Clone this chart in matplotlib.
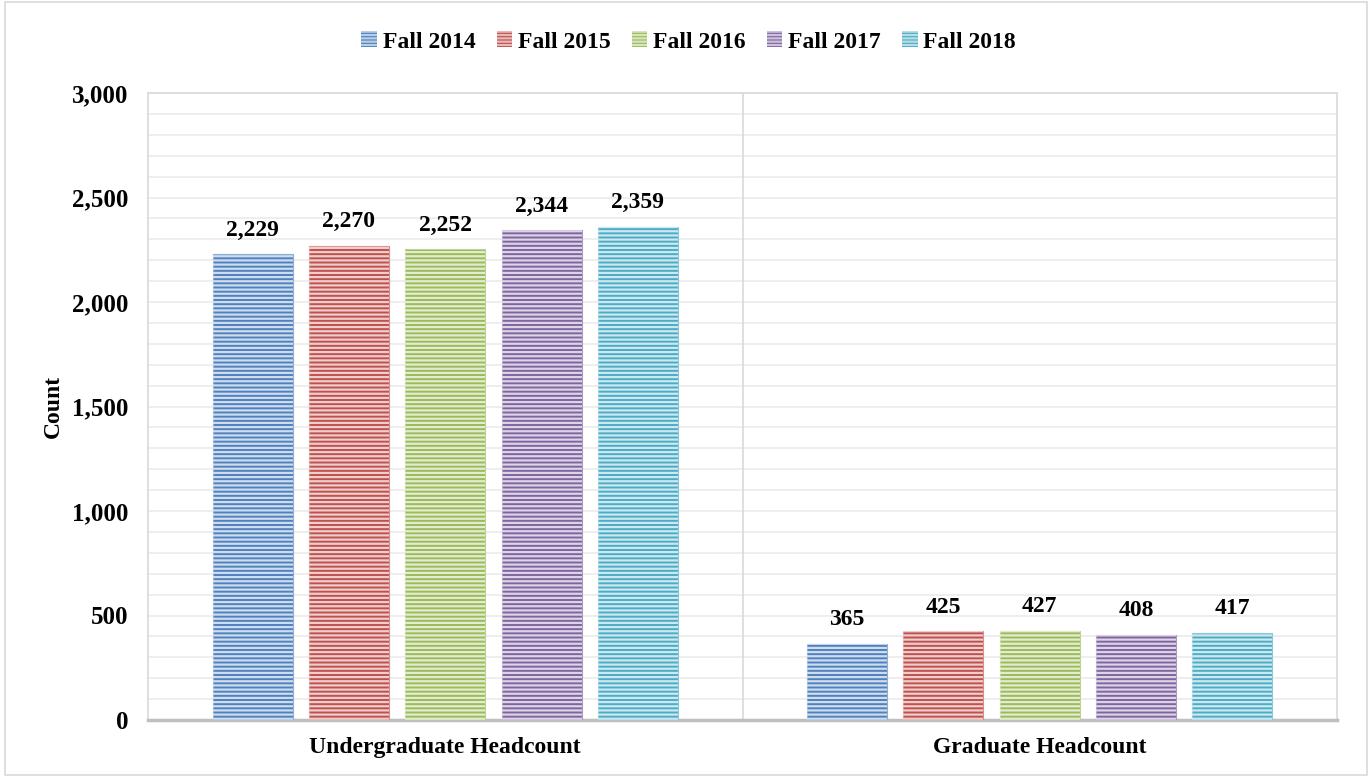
import matplotlib.pyplot as plt
import matplotlib.colors as mcolors
import numpy as np
from matplotlib.ticker import FuncFormatter, MultipleLocator
from matplotlib.patches import Rectangle

categories = ['Undergraduate Headcount', 'Graduate Headcount']
terms = ['Fall 2014', 'Fall 2015', 'Fall 2016', 'Fall 2017', 'Fall 2018']
fall_2014 = [2229, 365]
fall_2015 = [2270, 425]
fall_2016 = [2252, 427]
fall_2017 = [2344, 408]
fall_2018 = [2359, 417]
series = [fall_2014, fall_2015, fall_2016, fall_2017, fall_2018]
colors = ['#4F81BD', '#C0504D', '#9BBB59', '#8064A2', '#4BACC6']

plt.rcParams['font.family'] = ['Liberation Serif', 'DejaVu Serif']
plt.rcParams['font.weight'] = 'bold'
plt.rcParams['hatch.linewidth'] = 1.6


def lighten(c, amt):
    r, g, b = mcolors.to_rgb(c)
    return (r + (1 - r) * amt, g + (1 - g) * amt, b + (1 - b) * amt)


fig = plt.figure(figsize=(13.72, 7.77), dpi=100)
ax = fig.add_axes([148 / 1372, 1 - 720 / 777, (1337 - 148) / 1372, (720 - 93) / 777])

x = np.arange(len(categories))
step = 0.162
width = 0.1346
handles = []
for i, (vals, col) in enumerate(zip(series, colors)):
    pos = x + (i - 2) * step
    ax.bar(pos, vals, width, color=col, edgecolor=lighten(col, 0.35), linewidth=0.8, zorder=3)
    ax.bar(pos, vals, width, facecolor='none', edgecolor=lighten(col, 0.72), linewidth=0,
           hatch='----', zorder=4)
    handles.append(Rectangle((0, 0), 1, 1, facecolor=col, edgecolor=lighten(col, 0.6),
                             linewidth=0, hatch='-----', label=terms[i]))
    # value labels above each bar
    for p, v in zip(pos, vals):
        ax.text(p, v + 65, f'{v:,}', ha='center', va='bottom', fontsize=17,
                fontweight='bold', zorder=5)

ax.set_xlim(-0.5, 1.5)
ax.set_ylim(0, 3000)
ax.yaxis.set_major_locator(MultipleLocator(500))
ax.yaxis.set_minor_locator(MultipleLocator(100))
ax.yaxis.set_major_formatter(FuncFormatter(lambda v, p: f'{int(v):,}'))
ax.grid(axis='y', which='both', color='#EBEBEB', linewidth=1.2, zorder=0)
ax.axvline(0.5, color='#D9D9D9', linewidth=1.2, zorder=1)
ax.set_axisbelow(True)

ax.set_xticks(x)
ax.set_xticklabels(categories, fontsize=17, fontweight='bold')
ax.tick_params(axis='x', length=0, pad=12)
ax.tick_params(axis='y', which='both', length=0, pad=14, labelsize=18)
for lbl in ax.get_yticklabels():
    lbl.set_fontweight('bold')

for s in ['left', 'top', 'right']:
    ax.spines[s].set_color('#D9D9D9')
    ax.spines[s].set_linewidth(1.2)
ax.spines['bottom'].set_color('#BFBFBF')
ax.spines['bottom'].set_linewidth(2.5)

ax.set_ylabel('Count', fontsize=17, fontweight='bold', labelpad=6)

fig.legend(handles=handles, loc='center', bbox_to_anchor=(0.502, 1 - 42 / 777), ncol=5,
           frameon=False, handlelength=0.65, handleheight=0.65,
           handletextpad=0.25, columnspacing=0.9, prop={'weight': 'bold', 'size': 17})

fig.patches.append(Rectangle((0.004, 0.003), 0.992, 0.994, transform=fig.transFigure,
                             fill=False, edgecolor='#D9D9D9', linewidth=1.2))

fig.savefig('out.png', dpi=100)
